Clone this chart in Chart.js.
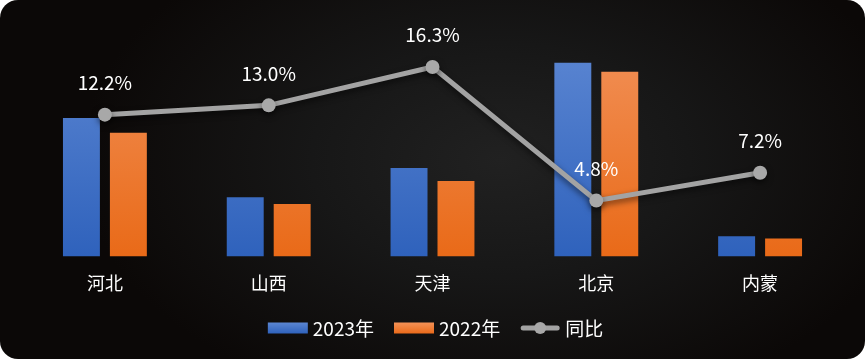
<!DOCTYPE html>
<html>
<head>
<meta charset="utf-8">
<script src="https://cdn.jsdelivr.net/npm/chart.js@4/dist/chart.umd.min.js"></script>
<style>
html,body{margin:0;padding:0;background:#ffffff;}
#wrap{position:relative;width:865px;height:359px;border-radius:18px;overflow:hidden;
background:radial-gradient(ellipse 420px 260px at 500px 160px,#212121 0%,#171717 45%,#0b0807 100%);}
canvas{display:block;}
</style>
</head>
<body>
<div id="wrap"><canvas id="c" width="865" height="359"></canvas></div>
<script>
const categories = ['河北','山西','天津','北京','内蒙'];
const values2023 = [715, 306, 456, 1000, 104];
const values2022 = [638, 270, 389, 954, 93];
const yoyPct = [12.2, 13.0, 16.3, 4.8, 7.2];
const seriesNames = ['2023年','2022年','同比'];

const FONT = '"Noto Sans CJK SC","Noto Sans",sans-serif';

function barGradient(topColor, bottomColor){
  return function(context){
    const chart = context.chart;
    const {ctx, chartArea} = chart;
    if(!chartArea) return bottomColor;
    const el = context.element;
    let y0 = chartArea.top, y1 = chartArea.bottom;
    if (el && el.y !== undefined && el.base !== undefined && isFinite(el.y)) { y0 = el.y; y1 = el.base; }
    if (!isFinite(y0) || !isFinite(y1) || y0 === y1) return bottomColor;
    const g = ctx.createLinearGradient(0, y0, 0, y1);
    g.addColorStop(0, topColor);
    g.addColorStop(1, bottomColor);
    return g;
  };
}

const lineShadow = {
  id:'lineShadow',
  beforeDatasetDraw(chart, args){
    if (args.index === 2){
      const ctx = chart.ctx; ctx.save();
      ctx.shadowColor = 'rgba(0,0,0,0.55)'; ctx.shadowBlur = 6; ctx.shadowOffsetY = 3;
    }
  },
  afterDatasetDraw(chart, args){
    if (args.index === 2) chart.ctx.restore();
  }
};

const labelsPlugin = {
  id:'pctLabels',
  afterDatasetsDraw(chart){
    const ctx = chart.ctx;
    const meta = chart.getDatasetMeta(2);
    ctx.save();
    ctx.fillStyle = '#ffffff';
    ctx.font = '19px ' + FONT;
    ctx.textAlign = 'center';
    ctx.textBaseline = 'middle';
    meta.data.forEach((pt, i) => {
      ctx.fillText(yoyPct[i].toFixed(1) + '%', pt.x, pt.y - 32);
    });
    ctx.restore();
  }
};

const legendPlugin = {
  id:'customLegend',
  afterDraw(chart){
    const ctx = chart.ctx;
    ctx.save();
    ctx.font = '19px ' + FONT;
    ctx.textBaseline = 'middle';
    const y = 328;
    const boxW = 40, boxH = 11, gapText = 5, gapItem = 20;
    const widths = seriesNames.map(n => boxW + gapText + ctx.measureText(n).width);
    const total = widths.reduce((a,b)=>a+b,0) + gapItem*(widths.length-1);
    let x = chart.width/2 - total/2 + 3;
    const cols = [['#5b86d2','#2f62bc'],['#f39257','#ea6a1a']];
    seriesNames.forEach((n, i) => {
      if (i < 2){
        const g = ctx.createLinearGradient(0, y - boxH/2, 0, y + boxH/2);
        g.addColorStop(0, cols[i][0]); g.addColorStop(1, cols[i][1]);
        ctx.fillStyle = g;
        ctx.fillRect(x, y - boxH/2, boxW, boxH);
      } else {
        ctx.strokeStyle = '#a3a3a3'; ctx.lineWidth = 5; ctx.lineCap = 'round';
        ctx.beginPath(); ctx.moveTo(x + 3, y); ctx.lineTo(x + boxW - 3, y); ctx.stroke();
        ctx.fillStyle = '#a8a8a8';
        ctx.beginPath(); ctx.arc(x + boxW/2, y, 6, 0, Math.PI*2); ctx.fill();
      }
      ctx.fillStyle = '#ffffff';
      ctx.fillText(n, x + boxW + gapText, y + 1);
      x += widths[i] + gapItem;
    });
    ctx.restore();
  }
};

new Chart(document.getElementById('c'), {
  data: {
    labels: categories,
    datasets: [
      { type:'bar', label: seriesNames[0], data: values2023, yAxisID:'y',
        backgroundColor: barGradient('#5f89d4','#2f62bc'), order: 2 },
      { type:'bar', label: seriesNames[1], data: values2022, yAxisID:'y',
        backgroundColor: barGradient('#f2935c','#e96a18'), order: 2 },
      { type:'line', label: seriesNames[2], data: yoyPct, yAxisID:'y1',
        borderColor:'#a3a3a3', borderWidth:5, pointRadius:7, pointHoverRadius:7,
        pointBackgroundColor:'#a8a8a8', pointBorderColor:'#a8a8a8', pointBorderWidth:0,
        tension:0, order: 0 }
    ]
  },
  options: {
    responsive:false,
    animation:false,
    layout:{ padding:{ left:23, right:23, top:24, bottom:49 } },
    plugins:{ legend:{display:false}, tooltip:{enabled:false} },
    datasets:{ bar:{ categoryPercentage:0.5732, barPercentage:0.787 } },
    scales:{
      x:{ grid:{display:false, drawTicks:false}, border:{display:false},
          ticks:{ color:'#ffffff', font:{size:18, family:FONT}, padding:16 } },
      y:{ display:false, min:0, max:1200 },
      y1:{ display:false, min:0, max:20, position:'right' }
    }
  },
  plugins:[lineShadow, labelsPlugin, legendPlugin]
});
</script>
</body>
</html>
